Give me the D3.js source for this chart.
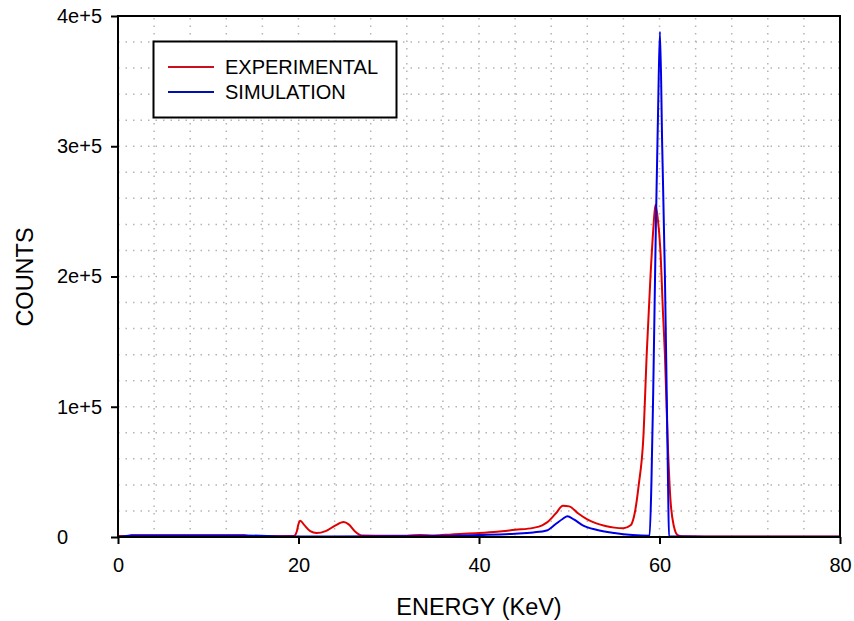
<!DOCTYPE html>
<html>
<head>
<meta charset="utf-8">
<script src="https://cdn.jsdelivr.net/npm/d3@7"></script>
<style>
  body { margin: 0; background: #fff; }
  svg { font-family: "Liberation Sans", Arial, sans-serif; }
</style>
</head>
<body>
<div class="chart"></div>
<script>
var w = 854, h = 621,
	margin = { top: 16, right: 14, bottom: 84, left: 118 };

// spectra (energy in KeV, counts)
var expEnergy = [0, 1, 1.5, 14, 14.5, 19.5, 19.8, 20.0, 20.2, 20.6, 21.3, 22, 23, 24, 25, 25.6, 26.3, 27, 30, 32, 33.5, 35, 37, 40, 42, 44, 46, 47, 47.5, 48.5, 49.3, 50, 51, 52, 53, 54, 55, 56, 56.8, 57.3, 57.7, 58.2, 58.6, 59.0, 59.3, 59.55, 59.8, 60.1, 60.4, 60.6, 60.9, 61.2, 61.6, 62.0, 62.5, 65, 80];
var expCounts = [800, 800, 1300, 1300, 600, 800, 4000, 10000, 12500, 9500, 4500, 3000, 4500, 8500, 11500, 9500, 4000, 1200, 1000, 1000, 1500, 1200, 2000, 3000, 4000, 5500, 7000, 9000, 11000, 18000, 24000, 23500, 18000, 13500, 10500, 8500, 7200, 6800, 9000, 20000, 40000, 75000, 143000, 200000, 235000, 255000, 245000, 220000, 170000, 140000, 75000, 30000, 8000, 1500, 500, 400, 400];

var simEnergy = [0, 1.5, 14, 19, 36, 40, 44, 46, 47.5, 48.5, 49.3, 49.8, 50.5, 51.5, 53, 55, 57, 58.9, 59.1, 59.3, 59.6, 59.85, 60.05, 60.3, 60.6, 60.8, 60.95, 61.05, 65, 80];
var simCounts = [0, 1200, 1200, 300, 800, 1500, 2500, 3500, 5000, 10000, 14000, 16000, 13500, 9000, 5500, 3000, 1500, 1000, 40000, 110000, 240000, 330000, 388000, 300000, 200000, 110000, 40000, 500, 200, 200];

var xTicks = [0, 20, 40, 60, 80],
	yTicks = [0, 100000, 200000, 300000, 400000],
	yTickLabels = ['0', '1e+5', '2e+5', '3e+5', '4e+5'];

var seriesNames = ['EXPERIMENTAL', 'SIMULATION'],
	seriesColors = ['#e00000', '#0000e6'],
	legendColors = ['#c81020', '#0010b0'];

var series = [
	{ name: seriesNames[0], data: expEnergy.map(function(e, i) { return { x: e, y: expCounts[i] }; }) },
	{ name: seriesNames[1], data: simEnergy.map(function(e, i) { return { x: e, y: simCounts[i] }; }) }
];

var xScale = d3.scaleLinear().domain([0, 80]).range([margin.left, w - margin.right]);
var yScale = d3.scaleLinear().domain([0, 400000]).range([h - margin.bottom, margin.top]);

var svg = d3.select('.chart').append('svg')
			.attr('width', w)
			.attr('height', h);

// dotted grid
svg.append('g')
	.selectAll('line')
	.data(d3.range(4, 80, 4))
	.enter().append('line')
		.attr('x1', function(d) { return xScale(d); })
		.attr('x2', function(d) { return xScale(d); })
		.attr('y1', yScale(0))
		.attr('y2', yScale(400000))
		.attr('stroke', '#b4b4b4')
		.attr('stroke-width', 1.5)
		.attr('stroke-dasharray', '1.5,6');

svg.append('g')
	.selectAll('line')
	.data(d3.range(20000, 400000, 20000))
	.enter().append('line')
		.attr('x1', xScale(0))
		.attr('x2', xScale(80))
		.attr('y1', function(d) { return yScale(d); })
		.attr('y2', function(d) { return yScale(d); })
		.attr('stroke', '#b4b4b4')
		.attr('stroke-width', 1.5)
		.attr('stroke-dasharray', '1.5,6');

var lineFunction = d3.line()
					.curve(d3.curveMonotoneX)
					.x(function(d) { return xScale(d.x); })
					.y(function(d) { return yScale(d.y); });

svg.append('g')
	.selectAll('path')
	.data(series)
	.enter().append('path')
		.attr('fill', 'none')
		.attr('stroke', function(d, i) { return seriesColors[i]; })
		.attr('stroke-width', 2)
		.attr('stroke-linejoin', 'round')
		.attr('d', function(d) { return lineFunction(d.data); });

// frame
svg.append('rect')
	.attr('x', xScale(0))
	.attr('y', yScale(400000))
	.attr('width', xScale(80) - xScale(0))
	.attr('height', yScale(0) - yScale(400000))
	.attr('fill', 'none')
	.attr('stroke', '#000')
	.attr('stroke-width', 2);

var xAxis = d3.axisBottom(xScale).tickValues(xTicks).tickSize(7).tickPadding(14);
var yAxis = d3.axisLeft(yScale).tickValues(yTicks)
				.tickFormat(function(d, i) { return yTickLabels[i]; })
				.tickSize(7);

var gx = svg.append('g')
	.attr('transform', 'translate(0,' + yScale(0) + ')')
	.call(xAxis);
var gy = svg.append('g')
	.attr('transform', 'translate(' + xScale(0) + ',0)')
	.call(yAxis);

// y labels are left aligned in the original
gy.selectAll('text')
	.attr('x', 57 - margin.left)
	.attr('text-anchor', 'start');

[gx, gy].forEach(function(g) {
	g.select('.domain').remove();
	g.selectAll('line').attr('stroke', '#000').attr('stroke-width', 2);
	g.selectAll('text')
		.attr('fill', '#000')
		.style('font-size', '20px')
		.style('font-family', '"Liberation Sans", Arial, sans-serif');
});

// axis titles
svg.append('text')
	.attr('x', (xScale(0) + xScale(80)) / 2)
	.attr('y', 615)
	.attr('text-anchor', 'middle')
	.style('font-size', '23.5px')
	.text('ENERGY (KeV)');

svg.append('text')
	.attr('transform', 'translate(33,277) rotate(-90)')
	.attr('text-anchor', 'middle')
	.style('font-size', '23.5px')
	.text('COUNTS');

// legend
var legend = svg.append('g');
legend.append('rect')
	.attr('x', 153.5)
	.attr('y', 41.5)
	.attr('width', 243)
	.attr('height', 76)
	.attr('fill', '#fff')
	.attr('stroke', '#000')
	.attr('stroke-width', 2);

var items = legend.selectAll('g.item')
	.data(seriesNames)
	.enter().append('g')
		.attr('class', 'item')
		.attr('transform', function(d, i) { return 'translate(168,' + (67 + i * 25) + ')'; });

items.append('line')
	.attr('x1', 0).attr('x2', 46)
	.attr('stroke', function(d, i) { return legendColors[i]; })
	.attr('stroke-width', 2);

items.append('text')
	.attr('x', 57)
	.attr('dy', '0.35em')
	.style('font-size', '20px')
	.text(function(d) { return d; });
</script>
</body>
</html>
